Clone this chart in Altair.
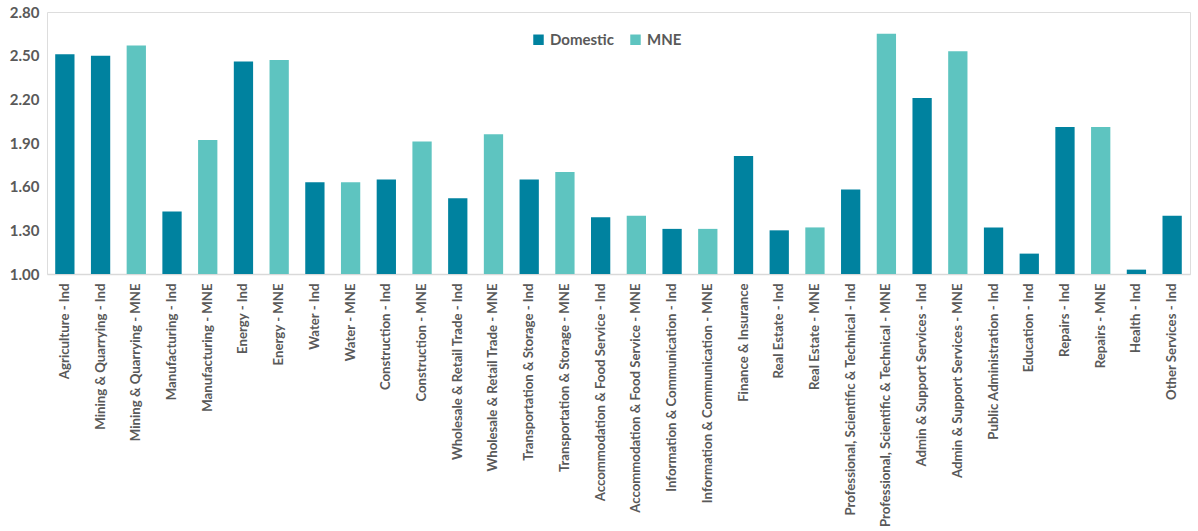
import altair as alt
import pandas as pd

categories = [
    "Agriculture - Ind", "Mining & Quarrying - Ind", "Mining & Quarrying - MNE",
    "Manufacturing - Ind", "Manufacturing - MNE", "Energy - Ind", "Energy - MNE",
    "Water - Ind", "Water - MNE", "Construction - Ind", "Construction - MNE",
    "Wholesale & Retail Trade - Ind", "Wholesale & Retail Trade - MNE",
    "Transportation & Storage - Ind", "Transportation & Storage - MNE",
    "Accommodation & Food Service - Ind", "Accommodation & Food Service - MNE",
    "Information & Communication - Ind", "Information & Communication - MNE",
    "Finance & Insurance", "Real Estate - Ind", "Real Estate - MNE",
    "Professional, Scientific & Technical - Ind", "Professional, Scientific & Technical - MNE",
    "Admin & Support Services - Ind", "Admin & Support Services - MNE",
    "Public Administration - Ind", "Education - Ind", "Repairs - Ind", "Repairs - MNE",
    "Health - Ind", "Other Services - Ind",
]
groups = [
    "Domestic", "Domestic", "MNE", "Domestic", "MNE", "Domestic", "MNE",
    "Domestic", "MNE", "Domestic", "MNE", "Domestic", "MNE", "Domestic", "MNE",
    "Domestic", "MNE", "Domestic", "MNE", "Domestic", "Domestic", "MNE",
    "Domestic", "MNE", "Domestic", "MNE", "Domestic", "Domestic", "Domestic", "MNE",
    "Domestic", "Domestic",
]
values = [
    2.51, 2.50, 2.57, 1.43, 1.92, 2.46, 2.47, 1.63, 1.63, 1.65, 1.91,
    1.52, 1.96, 1.65, 1.70, 1.39, 1.40, 1.31, 1.31, 1.81, 1.30, 1.32,
    1.58, 2.65, 2.21, 2.53, 1.32, 1.14, 2.01, 2.01, 1.03, 1.40,
]
y_ticks = [1.00, 1.30, 1.60, 1.90, 2.20, 2.50, 2.80]
series_names = ["Domestic", "MNE"]
series_colors = ["#00829F", "#5EC4C0"]

df = pd.DataFrame({"category": categories, "group": groups, "value": values})

FONT = "Lato"
GREY = "#595959"

chart = (
    alt.Chart(df)
    .mark_bar()
    .encode(
        x=alt.X(
            "category:N",
            sort=categories,
            title=None,
            scale=alt.Scale(paddingInner=0.46, paddingOuter=0.23),
            axis=alt.Axis(
                labelAngle=-90,
                labelAlign="right",
                labelBaseline="middle",
                labelFont=FONT,
                labelFontSize=13.2,
                labelFontWeight="bold",
                labelColor=GREY,
                labelPadding=9,
                labelLimit=400,
                ticks=False,
                domainColor="#d9d9d9",
                domainWidth=1.5,
            ),
        ),
        y=alt.Y(
            "value:Q",
            title=None,
            scale=alt.Scale(domain=[1.0, 2.8], zero=False, nice=False),
            axis=alt.Axis(
                values=y_ticks,
                format=".2f",
                labelFont=FONT,
                labelFontSize=15,
                labelFontWeight="bold",
                labelColor=GREY,
                labelPadding=8,
                ticks=False,
                domain=False,
                grid=False,
            ),
        ),
        y2=alt.Y2(datum=1.0),
        color=alt.Color(
            "group:N",
            scale=alt.Scale(domain=series_names, range=series_colors),
            legend=alt.Legend(
                title=None,
                orient="none",
                legendX=484,
                legendY=20,
                direction="horizontal",
                symbolType="square",
                symbolSize=110,
                symbolStrokeWidth=0,
                labelFont=FONT,
                labelFontSize=15,
                labelFontWeight="bold",
                labelColor=GREY,
                columnPadding=14,
            ),
        ),
    )
    .properties(
        width=1143,
        height=262,
        padding={"left": 9, "top": 5, "right": 5, "bottom": 0},
    )
    .configure_view(stroke=None)
    .configure(background="white")
)

chart.save("out.html", embed_options={"renderer": "svg", "actions": False})
